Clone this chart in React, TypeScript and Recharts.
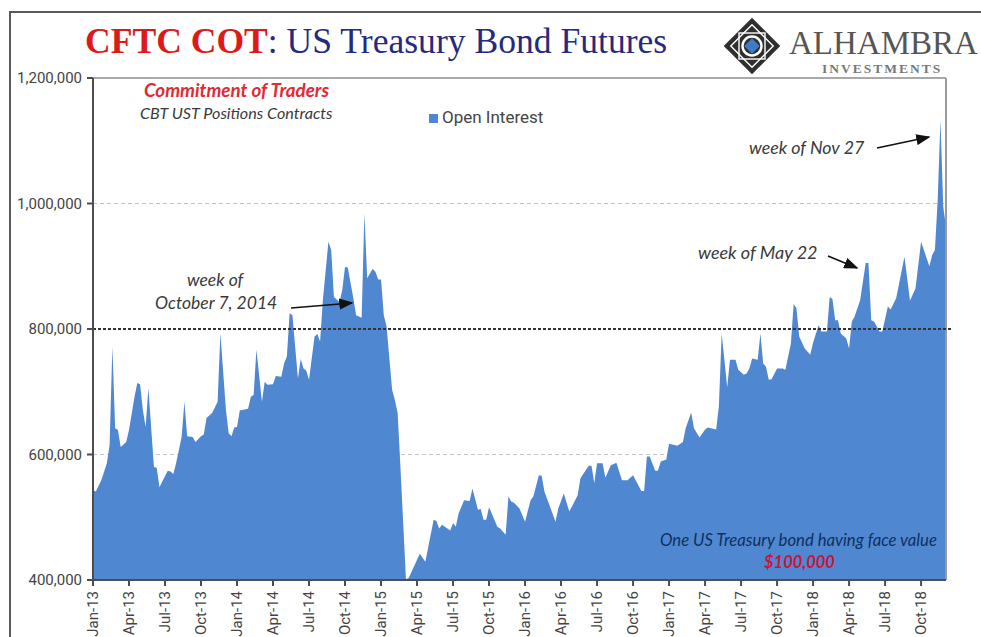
import React from 'react';
import {
  AreaChart,
  Area,
  XAxis,
  YAxis,
  CartesianGrid,
  Legend,
  ReferenceLine
} from 'recharts';

// Week number since the first week of Jan-13, only the weeks where the outline turns
const weeks = [
  0, 1, 3, 5, 6, 7, 8, 9, 10, 12, 13, 15, 16, 17, 18, 19, 20, 22, 23, 24, 25, 27, 28, 29, 30, 32, 33, 34, 36, 37, 39,
  40, 41, 43, 45, 46, 48, 49, 50, 51, 52, 53, 56, 57, 58, 59, 61, 62, 63, 65, 66, 68, 69, 70, 71, 72, 74, 75, 76, 77,
  78, 80, 81, 82, 83, 85, 86, 87, 89, 90, 91, 92, 94, 95, 97, 98, 99, 101, 102, 103, 104, 105, 106, 108, 109, 110,
  111, 113, 114, 118, 120, 123, 124, 125, 126, 129, 130, 131, 132, 134, 136, 137, 139, 140, 141, 142, 143, 146, 147,
  149, 150, 151, 152, 154, 156, 158, 159, 161, 162, 163, 167, 168, 170, 172, 175, 176, 179, 180, 181, 182, 184, 185,
  187, 189, 191, 193, 195, 198, 199, 200, 201, 203, 204, 205, 207, 208, 211, 213, 214, 216, 217, 219, 221, 222, 225,
  226, 227, 229, 230, 232, 233, 235, 236, 237, 238, 240, 241, 242, 243, 244, 245, 247, 249, 250, 252, 253, 254, 255,
  257, 259, 260, 262, 263, 265, 266, 267, 268, 269, 270, 272, 273, 274, 275, 277, 279, 280, 281, 282, 284, 285, 287,
  288, 290, 293, 295, 297, 299, 300, 302, 303, 304, 305, 306, 307, 308
];

// Open interest in thousands of contracts
const openInterest = [
  543, 541, 559, 586, 615, 772, 642, 639, 612, 620, 639, 692, 714, 712, 671, 644, 706, 580, 579, 548, 557, 574, 573, 569, 586, 628, 684, 629, 628, 620, 629,
  632, 658, 666, 684, 793, 671, 634, 629, 643, 644, 670, 673, 692, 695, 767, 684, 716, 711, 712, 725, 724, 745, 756, 825, 822, 721, 752, 737, 734,
  719, 788, 792, 780, 846, 939, 926, 851, 843, 862, 899, 898, 849, 822, 818, 984, 881, 896, 891, 879, 879, 822, 804, 703, 687, 666,
  581, 401, 403, 442, 429, 496, 494, 482, 488, 479, 491, 485, 506, 527, 526, 546, 512, 513, 496, 496, 516, 485, 482,
  472, 533, 525, 523, 514, 493, 527, 533, 567, 566, 541, 493, 514, 538, 509, 535, 562, 582, 582, 554, 586, 586, 563,
  583, 587, 559, 559, 567, 542, 542, 597, 597, 574, 574, 589, 592, 617, 614, 620, 642, 667, 642, 627, 640, 643, 640,
  677, 793, 707, 751, 751, 735, 727, 729, 737, 753, 751, 793, 745, 740, 719, 720, 737, 737, 735, 777, 840, 833, 788,
  769, 759, 778, 806, 796, 796, 851, 848, 814, 814, 793, 785, 769, 812, 820, 846, 905, 905, 814, 812, 796, 796, 836,
  831, 849, 915, 845, 865, 939, 926, 900, 918, 926, 1006, 1133, 995, 963
];

const yTicks = [400000, 600000, 800000, 1000000, 1200000];
const xTickWeeks = [0, 13, 26, 39, 52, 65, 78, 91, 104, 117, 130, 143, 156, 169, 182, 195, 208, 221, 234, 247, 260, 273, 286, 299];
const xTickLabels = [
  'Jan-13', 'Apr-13', 'Jul-13', 'Oct-13', 'Jan-14', 'Apr-14', 'Jul-14', 'Oct-14',
  'Jan-15', 'Apr-15', 'Jul-15', 'Oct-15', 'Jan-16', 'Apr-16', 'Jul-16', 'Oct-16',
  'Jan-17', 'Apr-17', 'Jul-17', 'Oct-17', 'Jan-18', 'Apr-18', 'Jul-18', 'Oct-18'
];

const chartData = weeks.map((week, index) => ({
  week,
  'Open Interest': openInterest[index] * 1000
}));

const AREA_COLOR = '#4f87d0';
const AXIS_COLOR = '#4d4d4d';

const XTick = ({ x, y, payload }: any) => (
  <text
    transform={`translate(${x + 5},${y + 3}) rotate(-90)`}
    textAnchor="end"
    fontFamily="Roboto, sans-serif"
    fontSize={15}
    fill="#444"
  >
    {xTickLabels[xTickWeeks.indexOf(payload.value)]}
  </text>
);

const DarkLine = ({ x1, y1, x2, y2 }: any) => (
  <line x1={x1} y1={y1} x2={x2 + 6} y2={y2} stroke="#333" strokeWidth={2} strokeDasharray="3 2" />
);

const Logo = () => (
  <g transform="translate(752,46)">
    <rect x={-20} y={-20} width={40} height={40} transform="rotate(45)" fill="#2f2f2f" />
    <g fill="none" stroke="#fff" strokeWidth={1.4}>
      <rect x={-15} y={-15} width={30} height={30} transform="rotate(45)" />
      <rect x={-13} y={-13} width={26} height={26} />
      <circle r={9.5} strokeWidth={2.5} />
    </g>
    <rect x={-5.5} y={-5.5} width={11} height={11} transform="rotate(45)" fill="#3f7cc8" />
  </g>
);

const Note = ({ x, y, size = 17, color = '#3a3a3a', weight = 'normal', children }: any) => (
  <text x={x} y={y} fontFamily="Lato, sans-serif" fontStyle="italic" fontSize={size} fontWeight={weight} fill={color}>
    {children}
  </text>
);

const Overlay = () => (
  <svg width={981} height={637} style={{ position: 'absolute', left: 0, top: 0, pointerEvents: 'none' }}>
    <defs>
      <marker id="head" markerWidth="9" markerHeight="7" refX="8" refY="3.5" orient="auto">
        <path d="M0,0 L9,3.5 L0,7 Z" fill="#111" />
      </marker>
    </defs>

    <text x={85} y={53} fontFamily="'Liberation Serif', serif" fontSize={35.6}>
      <tspan fill="#dc1a1a" fontWeight="bold">CFTC COT</tspan>
      <tspan fill="#242a80">: US Treasury Bond Futures</tspan>
    </text>

    <Logo />
    <text x={789} y={53.5} fontFamily="'Liberation Serif', serif" fontSize={33} fill="#555">ALHAMBRA</text>
    <text x={822} y={73} fontFamily="'Liberation Serif', serif" fontSize={13.5} fontWeight="bold" fill="#777" letterSpacing={2}>INVESTMENTS</text>

    <Note x={144} y={97} size={18.8} color="#e02a34" weight="bold">Commitment of Traders</Note>
    <Note x={140} y={119} size={16.2}>CBT UST Positions Contracts</Note>
    <Note x={187} y={286} size={17.5}>week of</Note>
    <Note x={155} y={309} size={17.5}>October 7, 2014</Note>
    <Note x={749} y={154} size={17.8}>week of Nov 27</Note>
    <Note x={698} y={259} size={18}>week of May 22</Note>
    <Note x={660} y={546} size={16.7} color="#10305f">One US Treasury bond having face value</Note>
    <Note x={764} y={568} size={16.5} color="#c8143c" weight="bold">$100,000</Note>

    <g stroke="#111" strokeWidth={1.6}>
      <line x1={291} y1={308} x2={352} y2={303} markerEnd="url(#head)" />
      <line x1={828} y1={256} x2={857} y2={268} markerEnd="url(#head)" />
      <line x1={877} y1={148} x2={929} y2={137} markerEnd="url(#head)" />
    </g>
  </svg>
);

const App: React.FC = () => {
  return (
    <div style={{ position: 'absolute', left: 0, top: 0, width: 981, height: 637, overflow: 'hidden', background: '#fff' }}>
      <div style={{ position: 'absolute', left: 9, top: 11, width: 970, height: 700, border: '2px solid #5a5a5a' }} />
      <AreaChart
        width={981}
        height={637}
        data={chartData}
        margin={{ top: 78, right: 35, left: 33, bottom: 0 }}
        style={{ position: 'absolute', left: 0, top: 0 }}
      >
        <CartesianGrid vertical={false} horizontalValues={[600000, 1000000]} stroke="#c4c4c4" strokeDasharray="4 3" />
        <XAxis
          dataKey="week"
          type="number"
          domain={[0, 308]}
          ticks={xTickWeeks}
          interval={0}
          height={57}
          tick={<XTick />}
          tickSize={6}
          axisLine={{ stroke: AXIS_COLOR, strokeWidth: 2 }}
          tickLine={{ stroke: AXIS_COLOR, strokeWidth: 2 }}
        />
        <YAxis
          domain={[400000, 1200000]}
          ticks={yTicks}
          interval={0}
          width={60}
          tickSize={6}
          tickMargin={5}
          tickFormatter={(value: number) => value.toLocaleString('en-US')}
          tick={{ fill: '#444', fontSize: 15, fontFamily: 'Roboto, sans-serif' }}
          axisLine={{ stroke: AXIS_COLOR, strokeWidth: 2 }}
          tickLine={{ stroke: AXIS_COLOR, strokeWidth: 2 }}
        />
        <Legend
          layout="vertical"
          align="center"
          verticalAlign="middle"
          iconType="square"
          iconSize={9}
          formatter={(value: string) => <span style={{ color: '#444' }}>{value}</span>}
          wrapperStyle={{ left: 429, top: 107, width: 150, fontFamily: 'Roboto, sans-serif', fontSize: 17 }}
        />
        <Area
          type="linear"
          dataKey="Open Interest"
          stroke="none"
          fill={AREA_COLOR}
          fillOpacity={1}
          dot={false}
          activeDot={false}
          isAnimationActive={false}
        />
        <ReferenceLine y={1200000} stroke="#8c8c8c" strokeWidth={1.5} />
        <ReferenceLine x={308} stroke="#9a9a9a" strokeWidth={2} />
        <ReferenceLine y={800000} shape={<DarkLine />} />
      </AreaChart>
      <Overlay />
    </div>
  );
};

export default App;
